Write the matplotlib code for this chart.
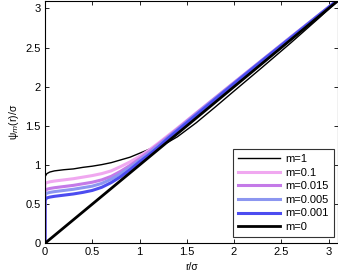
import numpy as np
import matplotlib
matplotlib.use('Agg')
import matplotlib.pyplot as plt

plt.rcParams['font.family'] = ['Liberation Sans', 'DejaVu Sans']

# r/sigma sample points (first 0 repeated: curves start from psi=0 at r=0)
r = [0, 0, 0.02, 0.05, 0.1, 0.2, 0.3, 0.4, 0.5, 0.6, 0.7, 0.8, 0.9, 1.0,
     1.1, 1.2, 1.3, 1.4, 1.6, 1.8, 2.0, 2.3, 2.6, 2.9, 3.1]

psi_m1 = [0, 0.85, 0.89, 0.91, 0.925, 0.94, 0.95, 0.97, 0.985, 1.005, 1.03, 1.065, 1.10, 1.15,
          1.20, 1.245, 1.29, 1.36, 1.54, 1.74, 1.945, 2.25, 2.56, 2.88, 3.1]
psi_m01 = [0, 0.76, 0.775, 0.785, 0.795, 0.81, 0.825, 0.845, 0.865, 0.89, 0.925, 0.98, 1.04, 1.11,
           1.19, 1.28, 1.375, 1.47, 1.665, 1.86, 2.055, 2.345, 2.635, 2.92, 3.11]
psi_m0015 = [0, 0.67, 0.69, 0.70, 0.71, 0.725, 0.74, 0.76, 0.78, 0.81, 0.855, 0.92, 0.995, 1.08,
             1.17, 1.265, 1.36, 1.46, 1.66, 1.855, 2.05, 2.34, 2.63, 2.92, 3.11]
psi_m0005 = [0, 0.62, 0.64, 0.65, 0.66, 0.675, 0.69, 0.71, 0.73, 0.765, 0.82, 0.89, 0.97, 1.06,
             1.15, 1.25, 1.35, 1.45, 1.65, 1.85, 2.045, 2.34, 2.63, 2.92, 3.11]
psi_m0001 = [0, 0.55, 0.58, 0.59, 0.60, 0.615, 0.63, 0.65, 0.675, 0.715, 0.775, 0.85, 0.94, 1.04,
             1.13, 1.23, 1.34, 1.44, 1.64, 1.84, 2.04, 2.335, 2.625, 2.915, 3.11]
psi_m0 = [0, 0, 0.02, 0.05, 0.1, 0.2, 0.3, 0.4, 0.5, 0.6, 0.7, 0.8, 0.9, 1.0,
          1.1, 1.2, 1.3, 1.4, 1.6, 1.8, 2.0, 2.3, 2.6, 2.9, 3.1]

labels = ['m=1', 'm=0.1', 'm=0.015', 'm=0.005', 'm=0.001', 'm=0']

fig = plt.figure(figsize=(3.38, 2.77), dpi=100)
ax = fig.add_axes([0.1331, 0.1217, 0.867, 0.876])

ax.plot(r, psi_m1, color='black', lw=1.0, label=labels[0])
ax.plot(r, psi_m01, color='#f0a8f0', lw=2.2, label=labels[1])
ax.plot(r, psi_m0015, color='#c47ae8', lw=2.2, label=labels[2])
ax.plot(r, psi_m0005, color='#8c96f0', lw=2.2, label=labels[3])
ax.plot(r, psi_m0001, color='#4c4cf0', lw=2.2, label=labels[4])
ax.plot(r, psi_m0, color='black', lw=2.0, label=labels[5])

ax.set_xlim(0, 3.1)
ax.set_ylim(0, 3.1)
ticks = [0, 0.5, 1, 1.5, 2, 2.5, 3]
tick_labels = ['0', '0.5', '1', '1.5', '2', '2.5', '3']
ax.set_xticks(ticks)
ax.set_yticks(ticks)
ax.set_xticklabels(tick_labels)
ax.set_yticklabels(tick_labels)
ax.tick_params(direction='in', length=3, width=0.6, labelsize=8, top=True, right=True, pad=3)
for s in ax.spines.values():
    s.set_linewidth(0.8)

ax.set_xlabel('r/σ', fontsize=7.5, labelpad=3)
ax.set_ylabel(r'ψ$_m$(r)/σ', fontsize=7.5, labelpad=3)

leg = ax.legend(loc='lower right', bbox_to_anchor=(0.986, 0.026), borderaxespad=0,
                fontsize=8, handlelength=3.8, labelspacing=0.32, fancybox=False,
                edgecolor='#333333', framealpha=1, borderpad=0.45, handletextpad=0.5)
leg.get_frame().set_linewidth(0.8)

fig.savefig('out.png', dpi=100)
